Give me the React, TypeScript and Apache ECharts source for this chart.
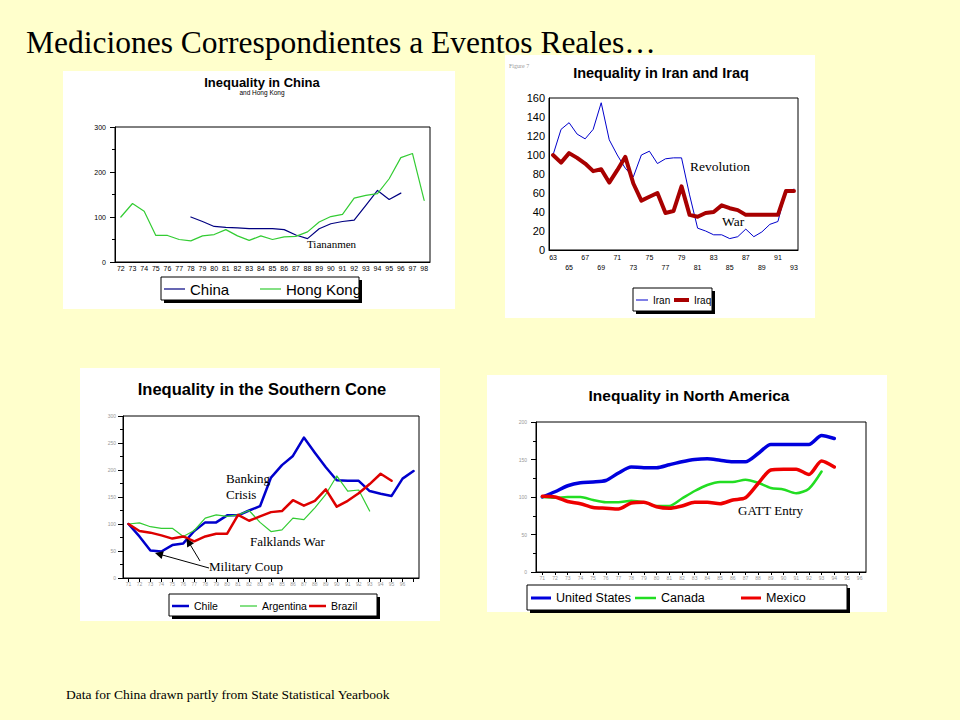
import React, { useEffect, useRef } from "react";
import * as echarts from "echarts";

// ---------- Data ----------
const chinaYears = ["72","73","74","75","76","77","78","79","80","81","82","83","84","85","86","87","88","89","90","91","92","93","94","95","96","97","98"];
const chinaValues = [null,null,null,null,null,null,100,90,79,77,76,74,74,74,72,60,52,74,85,90,93,126,159,139,153,null,null];
const hongKongValues = [100,130,113,59,59,50,47,58,61,72,58,48,58,50,56,57,67,89,101,106,142,148,152,185,232,241,137];

const iranYears = ["63","64","65","66","67","68","69","70","71","72","73","74","75","76","77","78","79","80","81","82","83","84","85","86","87","88","89","90","91","92","93"];
const iranValues = [100,127,134,122,117,127,155,116,100,86,77,100,104,91,96,97,97,58,23,20,16,16,12,14,22,14,19,27,30,62,64];
const iraqValues = [100,92,102,97,91,83,85,71,84,98,70,52,56,60,39,41,67,37,35,39,40,47,44,42,37,37,37,37,37,62,62];

const coneYears = ["71","72","73","74","75","76","77","78","79","80","81","82","83","84","85","86","87","88","89","90","91","92","93","94","95","96","97"];
const chileValues = [100,77,51,49,61,64,87,103,103,116,116,125,133,186,209,226,260,232,205,181,180,180,161,156,152,184,198];
const argentinaValues = [100,102,95,92,92,77,88,111,117,114,117,125,103,86,89,111,108,130,155,189,161,163,124,null,null,null,null];
const brazilValues = [100,87,84,79,73,77,68,77,82,82,117,106,114,122,124,144,134,143,164,132,143,157,174,193,180,null,null];

const naYears = ["71","72","73","74","75","76","77","78","79","80","81","82","83","84","85","86","87","88","89","90","91","92","93","94","95","96"];
const usValues = [100,107,115,119,120,122,132,140,139,139,143,147,150,151,149,147,147,158,170,170,170,170,182,178,null,null];
const canadaValues = [100,99,100,100,96,93,93,95,93,88,88,98,108,116,120,120,123,119,112,110,105,111,134,null,null,null];
const mexicoValues = [101,100,94,91,86,85,84,92,93,87,85,88,93,93,91,96,99,118,136,137,137,130,148,140,null,null];

// ---------- Styling helpers ----------
const SANS = "'Liberation Sans', Arial, sans-serif";
const SERIF = "'Liberation Serif', 'Times New Roman', serif";

function txt(text: string, x: number, y: number, size: number, opts: any = {}) {
  const align = opts.align || "left";
  return {
    type: "text",
    x,
    y,
    z: 100,
    silent: true,
    style: {
      text,
      fill: opts.color || "#000",
      font: `${opts.weight || "normal"} ${size}px ${opts.family || SERIF}`,
      align,
      verticalAlign: "middle",
      textAlign: align,
      textVerticalAlign: "middle",
    },
  };
}

function panel(x: number, y: number, w: number, h: number) {
  return { type: "rect", z: -100, silent: true, shape: { x, y, width: w, height: h }, style: { fill: "#ffffff" } };
}

function legendBox(x: number, y: number, w: number, h: number) {
  return [
    { type: "rect", z: -60, silent: true, shape: { x: x + 3, y: y + 3, width: w, height: h }, style: { fill: "#000" } },
    { type: "rect", z: -50, silent: true, shape: { x, y, width: w, height: h }, style: { fill: "#fff", stroke: "#000", lineWidth: 1 } },
  ];
}

function arrowHead(tip: [number, number], from: [number, number], len = 8, half = 4) {
  const dx = tip[0] - from[0];
  const dy = tip[1] - from[1];
  const l = Math.sqrt(dx * dx + dy * dy);
  const ux = dx / l, uy = dy / l;
  const bx = tip[0] - ux * len, by = tip[1] - uy * len;
  const px = -uy * half, py = ux * half;
  return {
    type: "polygon",
    z: 100,
    silent: true,
    shape: { points: [tip, [bx + px, by + py], [bx - px, by - py]] },
    style: { fill: "#000" },
  };
}

function legendItem(name: string, left: number, centerY: number, width: number, thick: number, fontSize: number) {
  const lh = fontSize + 4;
  return {
    data: [name],
    left,
    top: centerY - lh / 2,
    padding: 0,
    icon: "rect",
    itemWidth: width,
    itemHeight: thick,
    selectedMode: false,
    itemStyle: { borderWidth: 0 },
    textStyle: { fontSize, lineHeight: lh, fontFamily: SANS, color: "#000" },
  };
}

function lineSeries(name: string, data: any[], idx: number, color: string, width: number, smooth: any = false) {
  return {
    name,
    type: "line",
    xAxisIndex: idx,
    yAxisIndex: idx,
    data,
    symbol: "none",
    smooth,
    connectNulls: false,
    lineStyle: { color, width, join: "round", cap: "round" },
    itemStyle: { color },
    z: 3,
  };
}

const blackLine = { show: true, lineStyle: { color: "#000", width: 1 } };

function buildOption(): any {
  const grids = [
    { left: 115, top: 127, width: 315, height: 135 },
    { left: 549, top: 98, width: 249, height: 152 },
    { left: 123, top: 416, width: 296, height: 162 },
    { left: 536, top: 422, width: 330, height: 150 },
  ].map((g) => ({ ...g, show: true, borderColor: "#000", borderWidth: 1, backgroundColor: "transparent", containLabel: false }));

  const xAxis = [
    {
      gridIndex: 0, type: "category", data: chinaYears, boundaryGap: true,
      axisLine: blackLine, axisTick: { show: false },
      axisLabel: { interval: 0, fontSize: 7, color: "#000", fontFamily: SANS, margin: 3 },
    },
    {
      gridIndex: 1, type: "category", data: iranYears, boundaryGap: true,
      axisLine: blackLine, axisTick: { show: false },
      axisLabel: {
        interval: 0, fontSize: 7, lineHeight: 10, color: "#000", fontFamily: SANS, margin: 2,
        formatter: (v: string, i: number) => (i % 4 === 0 ? v : i % 4 === 2 ? "\n" + v : ""),
      },
    },
    {
      gridIndex: 2, type: "category", data: coneYears, boundaryGap: true,
      axisLine: blackLine,
      axisTick: { show: true, alignWithLabel: true, interval: 0, length: 4, lineStyle: { color: "#000" } },
      axisLabel: { interval: 0, fontSize: 5, color: "#999", fontFamily: SANS, margin: 3, formatter: (v: string) => (v === "97" ? "" : v) },
    },
    {
      gridIndex: 3, type: "category", data: naYears, boundaryGap: true,
      axisLine: blackLine,
      axisTick: { show: true, alignWithLabel: true, interval: 0, length: 3, lineStyle: { color: "#000" } },
      axisLabel: { interval: 0, fontSize: 5, color: "#999", fontFamily: SANS, margin: 3 },
    },
  ];

  const yAxis = [
    {
      gridIndex: 0, type: "value", min: 0, max: 300, interval: 100,
      axisLine: blackLine, splitLine: { show: false },
      axisTick: { show: true, length: 5, lineStyle: { color: "#000" } },
      minorTick: { show: true, splitNumber: 2, length: 3, lineStyle: { color: "#000" } },
      axisLabel: { fontSize: 7, color: "#000", fontFamily: SANS, margin: 9 },
    },
    {
      gridIndex: 1, type: "value", min: 0, max: 160, interval: 20,
      axisLine: blackLine, splitLine: { show: false }, axisTick: { show: false },
      axisLabel: { fontSize: 11, color: "#000", fontFamily: SANS, margin: 4 },
    },
    {
      gridIndex: 2, type: "value", min: 0, max: 300, interval: 50,
      axisLine: blackLine, splitLine: { show: false },
      axisTick: { show: true, length: 5, lineStyle: { color: "#000" } },
      minorTick: { show: true, splitNumber: 2, length: 3, lineStyle: { color: "#000" } },
      axisLabel: { fontSize: 5, color: "#999", fontFamily: SANS, margin: 7 },
    },
    {
      gridIndex: 3, type: "value", min: 0, max: 200, interval: 50,
      axisLine: blackLine, splitLine: { show: false },
      axisTick: { show: true, length: 5, lineStyle: { color: "#000" } },
      minorTick: { show: true, splitNumber: 2, length: 3, lineStyle: { color: "#000" } },
      axisLabel: { fontSize: 5, color: "#999", fontFamily: SANS, margin: 9 },
    },
  ];

  const series = [
    lineSeries("China", chinaValues, 0, "#000080", 1.2),
    lineSeries("Hong Kong", hongKongValues, 0, "#33cc33", 1.2),
    lineSeries("Iran", iranValues, 1, "#0000cc", 1),
    lineSeries("Iraq", iraqValues, 1, "#a80000", 4),
    lineSeries("Chile", chileValues, 2, "#0000cc", 2.5),
    lineSeries("Argentina", argentinaValues, 2, "#33cc33", 1.2),
    lineSeries("Brazil", brazilValues, 2, "#dd0000", 2.5),
    lineSeries("United States", usValues, 3, "#0000dd", 3.5, 0.25),
    lineSeries("Canada", canadaValues, 3, "#22dd22", 2.5, 0.25),
    lineSeries("Mexico", mexicoValues, 3, "#ee0000", 3.5, 0.25),
  ];

  const legend = [
    legendItem("China", 164, 289, 21, 1.2, 15),
    legendItem("Hong Kong", 260, 289, 21, 1.2, 15),
    legendItem("Iran", 636, 300, 12, 1, 10),
    legendItem("Iraq", 674, 300, 15, 4, 10),
    legendItem("Chile", 172, 606, 17, 2.5, 10.5),
    legendItem("Argentina", 240, 606, 17, 1.2, 10.5),
    legendItem("Brazil", 309, 606, 17, 2.5, 10.5),
    legendItem("United States", 531, 598, 20, 3, 12.5),
    legendItem("Canada", 635, 598, 21, 2.5, 12.5),
    legendItem("Mexico", 741, 598, 20, 3, 12.5),
  ];

  const graphic = [
    panel(63, 71, 392, 238),
    panel(505, 55, 310, 263),
    panel(80, 368, 360, 253),
    panel(487, 375, 400, 237),
    ...legendBox(161, 277, 198, 23),
    ...legendBox(633, 288, 79, 23),
    ...legendBox(169, 594, 208, 22),
    ...legendBox(527, 585, 320, 25),
    // page texts
    txt("Mediciones Correspondientes a Eventos Reales…", 26, 42, 31.5),
    txt("Data for China drawn partly from State Statistical Yearbook", 66, 694, 13.5),
    // panel titles
    txt("Inequality in China", 262, 82, 13, { align: "center", weight: "bold", family: SANS }),
    txt("and Hong Kong", 262, 92, 6.5, { align: "center", family: SANS }),
    txt("Figure 7", 509, 66, 6, { color: "#999" }),
    txt("Inequality in Iran and Iraq", 661, 73, 14.5, { align: "center", weight: "bold", family: SANS }),
    txt("Inequality in the Southern Cone", 262, 389, 16.5, { align: "center", weight: "bold", family: SANS }),
    txt("Inequality in North America", 689, 395, 15.5, { align: "center", weight: "bold", family: SANS }),
    // annotations
    txt("Tiananmen", 307, 244, 11),
    txt("Revolution", 690, 166, 13.5),
    txt("War", 722, 221, 13.5),
    txt("Banking", 226, 478, 13),
    txt("Crisis", 226, 494, 13),
    txt("Falklands War", 250, 541, 13),
    txt("Military Coup", 209, 566, 13),
    txt("GATT Entry", 738, 510, 13),
    { type: "line", z: 100, silent: true, shape: { x1: 209, y1: 568, x2: 158, y2: 553.8 }, style: { stroke: "#000", lineWidth: 1 } },
    arrowHead([155, 553], [209, 568]),
    { type: "line", z: 100, silent: true, shape: { x1: 200, y1: 561, x2: 188, y2: 541 }, style: { stroke: "#000", lineWidth: 1 } },
    arrowHead([186.5, 538.5], [200, 561]),
  ];

  return {
    animation: false,
    backgroundColor: "#ffffcc",
    grid: grids,
    xAxis,
    yAxis,
    series,
    legend,
    graphic,
  };
}

export default function App() {
  const ref = useRef<HTMLDivElement>(null);
  useEffect(() => {
    if (!ref.current) return;
    const chart = echarts.init(ref.current, null, { renderer: "svg" });
    chart.setOption(buildOption());
    return () => chart.dispose();
  }, []);
  return <div ref={ref} style={{ position: "fixed", left: 0, top: 0, width: 960, height: 720 }} />;
}
